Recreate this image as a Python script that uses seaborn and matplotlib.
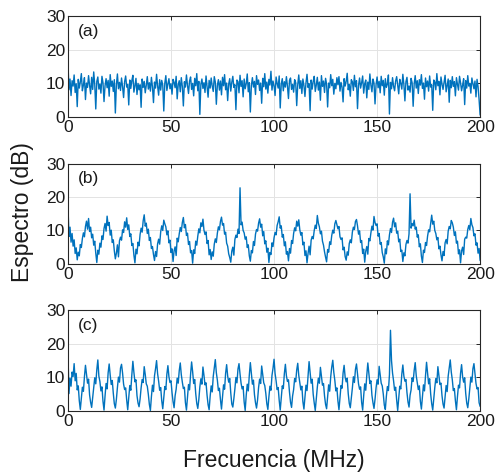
import numpy as np
import pandas as pd
import seaborn as sns
import matplotlib.pyplot as plt

# spectrum values in dB, every 0.5 MHz from 0 to 200 MHz
spectrum_a = [
    16.0, 8.1, 11.3, 6.4, 10.8, 9.2, 12.5, 7.3, 9.9, 3.1, 11.2, 8.6, 10.4, 12.9, 7.8, 9.5, 11.7, 5.2, 10.1, 8.8,
    12.3, 9.4, 6.9, 11.8, 8.2, 13.4, 9.7, 2.4, 10.6, 11.9, 8.3, 9.8, 7.1, 12.1, 10.2, 4.6, 9.3, 11.4, 8.7, 10.9,
    6.2, 12.6, 9.1, 10.7, 7.6, 11.1, 1.2, 9.6, 12.8, 8.4, 10.3, 7.9, 11.6, 9.0, 5.8, 10.5, 12.2, 8.9, 9.7, 3.6,
    11.0, 8.5, 10.8, 12.4, 7.4, 9.3, 11.5, 6.7, 10.0, 8.1, 9.6, 2.9, 11.3, 8.8, 10.6, 7.2, 9.4, 12.0, 8.3, 10.2,
    7.7, 11.8, 9.0, 4.3, 10.4, 8.6, 12.7, 9.2, 6.5, 11.1, 8.0, 10.9, 9.5, 1.8, 10.1, 12.3, 7.9, 9.8, 11.4, 8.4,
    9.9, 6.8, 11.2, 10.3, 8.7, 12.1, 5.4, 9.6, 10.8, 7.5, 11.7, 9.1, 3.3, 10.5, 8.9, 12.5, 9.4, 7.0, 10.7, 11.9,
    8.2, 10.0, 6.3, 11.5, 9.3, 12.9, 7.8, 10.6, 0.8, 9.7, 11.3, 8.5, 10.2, 7.3, 12.2, 9.0, 5.9, 10.9, 8.6, 11.6,
    9.2, 7.6, 12.0, 10.4, 3.8, 9.5, 11.1, 8.0, 10.7, 6.6, 11.8, 9.3, 12.6, 8.1, 10.1, 4.9, 9.8, 11.4, 7.7, 10.3,
    12.1, 8.8, 9.6, 2.2, 11.0, 10.5, 7.2, 12.4, 9.1, 10.8, 6.0, 11.3, 8.4, 9.9, 12.8, 7.5, 10.2, 1.5, 9.4, 11.7,
    8.9, 10.6, 6.7, 12.3, 9.7, 11.0, 7.9, 10.1, 4.1, 11.5, 9.0, 12.9, 8.3, 10.4, 7.1, 11.2, 9.5, 13.6, 8.0, 10.7,
    9.3, 6.4, 11.9, 10.0, 8.6, 12.2, 2.7, 9.8, 11.4, 7.8, 10.5, 8.9, 12.0, 9.2, 5.5, 10.9, 11.6, 8.2, 9.7, 7.4,
    11.1, 10.3, 3.4, 9.6, 12.5, 8.5, 10.8, 7.0, 11.3, 9.4, 6.1, 10.2, 12.7, 8.8, 9.9, 1.9, 11.0, 8.3, 10.6, 12.1,
    7.6, 9.5, 11.8, 8.0, 10.4, 5.0, 12.3, 9.1, 10.7, 7.3, 11.5, 9.8, 3.0, 10.1, 8.7, 12.6, 9.3, 11.2, 6.8, 10.0,
    8.4, 11.7, 9.6, 12.0, 7.7, 10.3, 8.9, 4.5, 11.4, 9.2, 10.6, 13.0, 8.1, 9.7, 6.2, 11.1, 10.5, 7.9, 12.4, 9.0,
    10.8, 2.5, 9.4, 11.6, 8.6, 10.2, 12.2, 7.1, 9.9, 11.0, 5.7, 10.4, 8.2, 12.8, 9.5, 7.5, 11.3, 10.1, 3.9, 9.6,
    11.9, 8.7, 10.6, 7.2, 12.1, 9.3, 10.9, 6.5, 11.4, 8.8, 9.8, 12.5, 0.9, 10.3, 8.4, 11.7, 9.1, 7.8, 10.7, 12.0,
    9.4, 6.9, 11.2, 10.0, 8.3, 12.7, 9.7, 4.8, 10.5, 11.8, 8.0, 9.2, 7.4, 11.5, 10.2, 3.2, 9.9, 12.3, 8.6, 10.8,
    7.0, 11.1, 9.5, 12.6, 8.5, 10.1, 5.3, 11.6, 9.0, 10.7, 7.7, 12.2, 8.9, 9.6, 2.0, 11.0, 10.4, 8.1, 12.9, 9.3,
    10.6, 6.6, 11.9, 9.8, 8.2, 10.3, 12.4, 7.5, 9.4, 11.3, 4.4, 10.9, 8.7, 12.0, 9.1, 10.5, 6.3, 11.7, 9.7, 8.0,
    12.1, 10.2, 7.8, 9.5, 11.4, 3.7, 10.8, 8.6, 12.3, 9.2, 10.0, 7.1, 11.6, 9.9, 8.4, 10.7, 6.0, 11.2, 9.0, 5.1,
    0.6,
]

spectrum_b = [
    17.5, 8.2, 11.0, 6.5, 9.1, 5.3, 7.2, 3.1, 4.8, 1.2,
    3.5, 2.4, 5.8, 4.9, 7.6, 9.3, 8.1, 11.2, 12.8, 10.4, 13.6, 9.7, 11.0, 7.8, 8.9, 5.6, 6.8, 3.2, 0.4,
    4.1, 2.9, 6.2, 5.0, 8.4, 7.3, 10.6, 12.1, 9.8, 14.3, 11.5, 12.4, 8.6, 10.1, 6.4, 7.2, 3.9, 1.5,
    3.2, 5.7, 2.1, 6.9, 8.0, 7.1, 10.2, 9.4, 12.6, 11.0, 13.8, 10.3, 11.7, 8.2, 9.0, 5.5, 6.1, 2.6, 0.3,
    4.4, 3.0, 6.5, 5.4, 8.8, 10.7, 9.5, 12.9, 14.7, 11.3, 12.2, 9.1, 10.4, 7.0, 7.9, 4.6, 5.2, 2.8, 1.0,
    3.7, 2.2, 6.0, 7.4, 5.9, 9.6, 11.4, 10.0, 13.1, 12.0, 11.1, 8.7, 9.9, 6.3, 7.1, 3.4, 4.5, 0.7,
    3.9, 5.1, 2.5, 7.7, 6.6, 9.0, 10.9, 9.7, 12.4, 13.9, 10.8, 11.8, 8.5, 9.2, 5.8, 6.7, 3.3, 4.0, 0.2,
    4.2, 3.1, 6.8, 5.6, 8.3, 10.5, 9.3, 12.3, 11.2, 13.4, 10.1, 8.8, 9.6, 6.1, 7.0, 2.7, 4.3, 1.3,
    3.6, 2.3, 5.9, 7.5, 6.4, 9.2, 11.1, 10.2, 12.7, 14.0, 11.6, 12.1, 8.9, 9.5, 6.2, 5.3, 3.0, 1.9, 0.5,
    3.8, 5.0, 2.6, 7.3, 8.6, 7.9, 10.4, 9.1, 22.8, 11.7, 12.5, 10.0, 9.3, 7.4, 8.1, 4.9, 5.7, 2.4, 0.8,
    4.0, 3.3, 6.7, 5.5, 8.9, 10.3, 9.8, 12.2, 13.5, 11.0, 11.9, 8.4, 9.7, 6.0, 6.9, 3.5, 4.7, 0.4,
    3.4, 2.8, 6.3, 5.2, 7.8, 9.4, 8.7, 11.5, 12.6, 14.1, 10.7, 11.4, 8.0, 8.8, 5.4, 6.6, 2.9, 3.7, 0.9,
    4.6, 3.2, 7.0, 6.1, 9.1, 10.8, 9.9, 12.8, 11.3, 13.2, 10.2, 8.6, 9.4, 5.7, 6.5, 2.5, 3.9, 0.3,
    3.1, 5.3, 2.7, 7.1, 8.2, 7.5, 10.0, 11.6, 10.6, 14.5, 12.2, 11.1, 9.0, 9.8, 6.8, 5.6, 3.6, 2.0, 0.6,
    4.3, 3.5, 6.6, 5.8, 8.5, 10.1, 9.2, 12.0, 13.0, 11.8, 10.5, 11.2, 8.1, 7.3, 7.8, 4.2, 5.0, 2.2, 1.1,
    3.6, 2.6, 6.1, 7.2, 6.3, 9.5, 11.0, 10.3, 12.7, 13.3, 11.4, 8.9, 9.9, 6.4, 7.0, 3.1, 4.4, 0.5,
    3.8, 5.2, 2.9, 7.6, 6.9, 9.3, 11.3, 10.1, 14.2, 12.4, 11.5, 12.0, 8.3, 9.1, 5.9, 6.4, 3.4, 2.1, 0.2,
    4.5, 3.0, 6.9, 5.7, 8.7, 10.6, 9.4, 12.5, 13.7, 11.1, 12.3, 9.2, 9.8, 6.6, 7.4, 3.7, 4.1, 0.7,
    3.3, 2.4, 5.8, 7.0, 6.2, 9.0, 21.0, 10.7, 12.1, 11.4, 13.1, 10.4, 11.0, 8.0, 8.7, 5.1, 6.0, 2.3, 0.4,
    4.1, 3.4, 6.4, 5.5, 8.3, 10.2, 9.6, 12.2, 14.6, 11.9, 12.8, 10.0, 9.1, 7.2, 7.9, 4.5, 5.3, 2.7, 0.9,
    3.7, 2.5, 6.3, 7.3, 6.0, 9.8, 11.2, 10.5, 13.0, 12.3, 11.0, 8.5, 9.6, 6.2, 6.8, 3.0, 4.2, 0.3,
    3.9, 5.0, 2.8, 7.4, 8.0, 7.7, 10.3, 11.5, 10.2, 13.6, 11.7, 10.9, 8.4, 9.0, 5.6, 6.3, 3.2, 4.6,
    1.0,
]

spectrum_c = [
    17.0, 5.2, 9.8, 7.4, 11.6, 10.3, 14.1, 9.0, 11.2, 6.3, 7.5, 3.1,
    0.5, 3.8, 7.1, 5.9, 10.2, 13.6, 11.0, 8.3, 9.5, 4.8, 2.6,
    1.1, 4.0, 6.7, 9.9, 8.1, 12.3, 15.2, 10.4, 8.8, 6.0, 7.2, 2.9,
    0.3, 4.5, 8.2, 6.6, 11.4, 14.0, 10.7, 7.9, 9.1, 5.3, 2.2,
    0.9, 3.5, 7.0, 10.1, 8.6, 12.8, 13.9, 11.3, 8.0, 6.4, 6.9, 3.3,
    0.4, 4.1, 7.6, 6.2, 10.8, 14.8, 11.5, 8.7, 9.3, 4.6, 2.4,
    1.3, 3.6, 6.9, 9.4, 8.5, 13.2, 10.9, 8.1, 7.4, 5.0, 2.0,
    0.2, 4.3, 7.7, 5.8, 10.5, 12.6, 15.0, 11.1, 8.9, 6.2, 7.0, 3.1,
    0.7, 3.9, 7.3, 6.4, 11.0, 13.5, 10.2, 8.5, 9.0, 5.5, 2.8,
    1.0, 4.6, 6.5, 9.8, 8.3, 12.0, 14.3, 10.8, 8.6, 6.7, 7.1, 2.5,
    0.3, 4.0, 7.9, 6.3, 10.9, 14.6, 11.7, 8.2, 9.4, 5.2, 2.3,
    0.8, 3.4, 7.2, 9.6, 8.0, 13.1, 10.6, 7.8, 8.4, 4.7, 1.9,
    0.4, 4.4, 7.5, 5.7, 10.3, 12.9, 15.3, 11.4, 9.2, 6.1, 6.8, 3.4,
    0.6, 4.1, 7.8, 6.5, 11.2, 13.8, 10.4, 8.6, 9.7, 5.4, 2.1,
    1.2, 3.7, 6.6, 10.0, 8.4, 12.5, 14.1, 11.0, 8.3, 6.6, 7.3, 2.7,
    0.2, 4.7, 8.0, 6.0, 10.7, 14.4, 11.3, 8.0, 9.2, 4.9, 2.5,
    0.9, 3.3, 7.0, 9.5, 8.2, 13.4, 10.8, 8.4, 7.6, 5.3, 2.2,
    0.5, 4.2, 7.4, 6.2, 10.6, 12.7, 15.4, 11.2, 9.0, 6.4, 7.0, 3.2,
    0.3, 3.8, 7.5, 6.7, 11.1, 13.9, 10.5, 8.8, 9.3, 5.6, 2.6,
    1.1, 4.5, 6.4, 9.7, 8.7, 12.2, 14.2, 10.6, 8.5, 6.3, 7.4, 2.8,
    0.6, 4.0, 7.7, 6.1, 10.4, 14.7, 11.6, 8.3, 9.5, 5.0, 2.4,
    0.2, 3.6, 7.1, 9.8, 8.3, 13.0, 10.3, 7.7, 8.2, 4.5, 2.0,
    0.7, 4.3, 7.8, 5.9, 10.2, 13.1, 15.1, 11.5, 9.1, 6.0, 6.9, 3.0,
    0.4, 4.2, 7.6, 6.8, 11.3, 13.6, 10.1, 8.7, 9.8, 5.2, 2.3,
    1.0, 3.8, 6.8, 10.2, 8.5, 12.4, 14.0, 11.2, 8.1, 6.5, 7.2, 2.6,
    0.3, 4.6, 8.1, 6.2, 10.6, 14.3, 11.1, 8.2, 9.0, 4.7, 2.5,
    0.8, 3.5, 6.9, 9.3, 8.0, 13.3, 10.7, 8.3, 7.5, 5.1, 1.8,
    0.5, 4.4, 7.3, 6.1, 10.8, 24.0, 15.0, 11.3, 9.0, 6.2, 7.1, 3.3,
    0.2, 3.9, 7.4, 6.6, 11.0, 13.7, 10.4, 8.9, 9.4, 5.5, 2.7,
    1.2, 4.7, 6.3, 9.9, 8.8, 12.1, 14.4, 10.5, 8.4, 6.4, 7.5, 2.9,
    0.6, 4.1, 7.8, 6.0, 10.5, 14.5, 11.4, 8.1, 9.6, 5.1, 2.2,
    0.3, 3.7, 7.0, 9.7, 8.4, 13.2, 10.5, 7.9, 8.3, 4.6, 2.1,
    0.9, 4.2, 7.6, 5.8, 10.4, 12.8, 15.2, 11.6, 9.3, 6.1, 6.7, 3.1,
    0.4, 4.3, 7.7, 6.9, 11.2, 13.8, 10.2, 8.6, 9.9, 5.3, 2.4,
    1.0, 3.6, 6.7, 10.1, 8.6, 12.6, 14.1, 11.1, 8.2, 6.6, 7.0, 2.5,
    1.4,
]

panel_labels = ["(a)", "(b)", "(c)"]
x_ticks = [0, 50, 100, 150, 200]
y_ticks = [0, 10, 20, 30]

sns.set_theme(style="whitegrid")
plt.rcParams["font.family"] = ["Liberation Sans", "DejaVu Sans"]

fig = plt.figure(figsize=(4.96, 4.72), dpi=100)
line_color = "#0072BD"

# axes boxes placed to match the reference pixel layout
boxes = [
    [0.137, 0.752, 0.831, 0.214],
    [0.137, 0.441, 0.831, 0.212],
    [0.137, 0.129, 0.831, 0.214],
]

for box, vals, lab in zip(boxes, [spectrum_a, spectrum_b, spectrum_c], panel_labels):
    ax = fig.add_axes(box)
    df = pd.DataFrame({"freq": np.linspace(0, 200, len(vals)), "db": vals})
    sns.lineplot(data=df, x="freq", y="db", ax=ax, color=line_color,
                 linewidth=1.0, estimator=None)
    ax.set_xlim(0, 200)
    ax.set_ylim(0, 30)
    ax.set_xticks(x_ticks)
    ax.set_yticks(y_ticks)
    ax.set_xlabel("")
    ax.set_ylabel("")
    ax.grid(True, color="#e3e3e3", linewidth=0.7)
    for s in ax.spines.values():
        s.set_color("#262626")
        s.set_linewidth(0.8)
    ax.tick_params(direction="in", length=3, width=0.7, top=True, right=True,
                   labelsize=12.5, colors="#262626", labelcolor="#1a1a1a", pad=2)
    ax.text(0.024, 0.85, lab, transform=ax.transAxes, fontsize=12.5,
            color="#1a1a1a", va="center", ha="left")

fig.text(0.552, 0.025, "Frecuencia (MHz)", ha="center", va="center",
         fontsize=16.5, color="#1a1a1a")
fig.text(0.045, 0.55, "Espectro (dB)", ha="center", va="center",
         rotation=90, fontsize=16.5, color="#1a1a1a")

fig.savefig("out.png", dpi=100, facecolor="white")
